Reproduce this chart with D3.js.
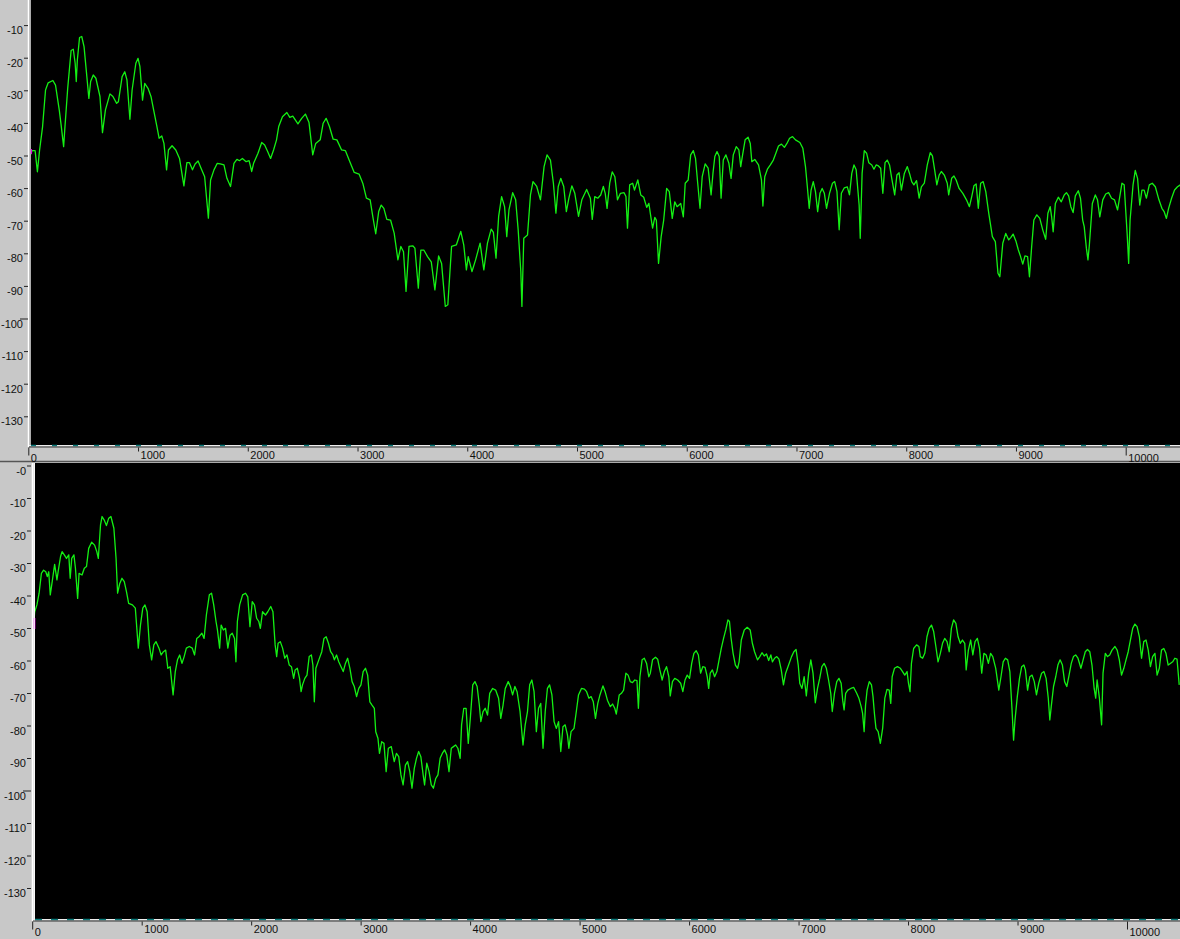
<!DOCTYPE html>
<html>
<head>
<meta charset="utf-8">
<script src="https://cdn.jsdelivr.net/npm/d3@7"></script>
<style>
  body { margin: 0; background: #c8c8c8; }
  text { font-family: "Liberation Sans", Arial, sans-serif; font-size: 10.5px; fill: #111; }
</style>
</head>
<body>
<div id="chart"></div>
<script>
// frequency ticks (Hz) and level ticks (dB)
var xTicks = [0, 1000, 2000, 3000, 4000, 5000, 6000, 7000, 8000, 9000, 10000];
var yTicksTop = [-10, -20, -30, -40, -50, -60, -70, -80, -90, -100, -110, -120, -130];
var yTicksBottom = [0, -10, -20, -30, -40, -50, -60, -70, -80, -90, -100, -110, -120, -130];

// spectrum of the upper channel: [Hz, dB]
var topSpectrum = [[12,-50.4],[35,-48.5],[62,-48.5],[83,-55.0],[103,-48.3],[130,-41.2],[157,-29.9],[181,-27.7],[224,-27.0],[248,-28.4],[282,-36.0],[299,-40.6],[322,-47.3],[332,-42.2],[359,-29.4],[390,-17.8],[410,-17.4],[427,-21.7],[437,-27.3],[447,-20.7],[467,-13.8],[487,-13.5],[508,-16.6],[528,-23.8],[552,-32.5],[568,-27.3],[592,-25.3],[616,-26.3],[653,-31.9],[676,-43.0],[703,-36.0],[744,-31.1],[771,-31.9],[805,-34.0],[821,-33.5],[855,-25.8],[879,-24.3],[899,-26.8],[926,-38.9],[946,-29.9],[980,-21.7],[1000,-20.2],[1017,-22.7],[1041,-33.0],[1061,-27.9],[1091,-29.4],[1118,-31.9],[1142,-36.0],[1169,-40.6],[1192,-44.7],[1216,-44.0],[1236,-46.3],[1260,-54.4],[1277,-48.3],[1310,-47.0],[1344,-48.3],[1378,-50.9],[1418,-59.3],[1445,-52.2],[1469,-52.2],[1496,-54.4],[1520,-52.6],[1547,-51.7],[1580,-54.4],[1607,-56.5],[1641,-69.2],[1661,-57.5],[1692,-54.4],[1722,-52.4],[1749,-52.6],[1783,-52.9],[1810,-57.0],[1843,-59.5],[1874,-52.4],[1901,-51.2],[1924,-51.6],[1951,-50.9],[1985,-51.9],[2012,-51.6],[2036,-54.9],[2053,-52.4],[2093,-49.3],[2127,-46.0],[2154,-46.8],[2181,-48.8],[2208,-50.9],[2235,-48.3],[2262,-45.2],[2282,-41.1],[2316,-38.1],[2356,-36.8],[2383,-38.3],[2410,-37.9],[2457,-40.3],[2491,-38.6],[2525,-37.3],[2558,-39.9],[2592,-49.8],[2619,-46.3],[2660,-45.2],[2687,-40.1],[2714,-38.6],[2744,-41.1],[2778,-45.0],[2812,-45.2],[2855,-48.3],[2889,-48.5],[2930,-51.9],[2970,-55.2],[3014,-55.7],[3048,-58.5],[3081,-63.1],[3115,-63.6],[3139,-68.7],[3166,-74.0],[3193,-67.2],[3216,-65.2],[3240,-66.2],[3267,-69.6],[3301,-69.8],[3334,-73.8],[3368,-82.0],[3395,-77.9],[3419,-79.5],[3442,-91.7],[3469,-77.9],[3503,-77.7],[3523,-78.4],[3554,-90.7],[3577,-79.0],[3604,-79.0],[3638,-81.0],[3672,-82.6],[3705,-91.2],[3739,-80.8],[3766,-83.1],[3800,-96.3],[3823,-95.8],[3857,-77.9],[3901,-77.4],[3941,-73.3],[3968,-77.4],[3992,-85.1],[4009,-81.0],[4043,-85.6],[4076,-82.0],[4117,-76.9],[4151,-85.1],[4184,-76.9],[4218,-72.6],[4238,-73.6],[4262,-81.5],[4286,-68.7],[4313,-62.6],[4340,-65.7],[4360,-74.9],[4380,-66.7],[4414,-61.4],[4441,-63.6],[4464,-72.8],[4488,-85.6],[4498,-96.3],[4515,-75.4],[4549,-74.4],[4576,-62.1],[4599,-58.0],[4633,-59.5],[4667,-63.6],[4700,-53.4],[4727,-49.8],[4758,-51.4],[4785,-58.5],[4808,-67.7],[4829,-59.5],[4852,-57.0],[4879,-59.5],[4903,-67.2],[4926,-63.1],[4953,-59.3],[4980,-61.6],[5014,-68.7],[5044,-63.6],[5088,-60.4],[5122,-63.1],[5139,-69.6],[5162,-62.6],[5189,-63.1],[5216,-62.1],[5240,-59.5],[5257,-61.6],[5274,-66.2],
  [5298,-58.5],[5321,-55.0],[5345,-56.5],[5369,-63.6],[5396,-61.6],[5429,-61.4],[5446,-62.6],[5460,-72.3],[5480,-59.0],[5507,-58.5],[5524,-60.6],[5554,-57.5],[5581,-62.1],[5608,-62.8],[5635,-65.9],[5655,-64.7],[5675,-69.3],[5689,-72.3],[5709,-69.0],[5723,-69.8],[5743,-83.1],[5767,-74.9],[5790,-69.8],[5817,-60.1],[5841,-61.1],[5868,-69.3],[5891,-64.2],[5912,-65.7],[5945,-64.7],[5969,-68.8],[5986,-58.5],[6013,-57.5],[6036,-49.8],[6060,-48.5],[6080,-50.9],[6100,-58.5],[6121,-66.2],[6141,-56.5],[6168,-52.6],[6195,-53.9],[6222,-62.1],[6239,-55.5],[6256,-50.3],[6276,-48.8],[6296,-50.3],[6313,-63.1],[6333,-51.4],[6357,-49.8],[6384,-52.4],[6404,-57.0],[6424,-49.8],[6451,-47.3],[6475,-48.3],[6492,-53.4],[6509,-49.8],[6532,-45.2],[6559,-44.4],[6579,-46.3],[6593,-51.9],[6620,-51.2],[6654,-52.9],[6681,-57.5],[6694,-65.5],[6711,-56.5],[6735,-54.2],[6762,-52.9],[6789,-51.4],[6812,-49.3],[6836,-47.1],[6863,-46.5],[6890,-47.5],[6913,-46.3],[6937,-44.7],[6964,-44.2],[6991,-45.2],[7031,-46.0],[7058,-47.8],[7082,-53.4],[7099,-59.6],[7116,-66.2],[7133,-60.6],[7153,-58.0],[7173,-61.1],[7193,-67.2],[7214,-61.6],[7234,-60.1],[7254,-61.6],[7274,-66.2],[7301,-61.6],[7328,-58.5],[7348,-58.0],[7369,-61.1],[7389,-72.8],[7409,-61.6],[7436,-59.9],[7463,-59.6],[7483,-62.1],[7504,-55.5],[7524,-52.9],[7544,-54.4],[7571,-65.2],[7581,-75.4],[7598,-55.5],[7618,-48.5],[7639,-49.3],[7659,-52.2],[7686,-52.9],[7706,-54.2],[7726,-52.9],[7747,-53.2],[7767,-53.9],[7787,-61.6],[7807,-52.2],[7827,-51.4],[7848,-52.9],[7868,-57.0],[7895,-62.1],[7915,-56.0],[7935,-55.3],[7956,-60.6],[7983,-55.5],[8010,-53.4],[8030,-55.5],[8050,-58.0],[8070,-59.0],[8094,-57.7],[8118,-63.1],[8138,-59.6],[8165,-58.5],[8192,-52.9],[8219,-49.1],[8239,-50.1],[8259,-54.4],[8279,-59.0],[8300,-56.0],[8320,-54.9],[8347,-56.0],[8374,-58.5],[8387,-62.1],[8414,-57.0],[8435,-56.3],[8455,-57.5],[8482,-60.1],[8516,-61.6],[8549,-63.6],[8576,-65.7],[8597,-62.6],[8617,-59.3],[8637,-58.7],[8657,-66.2],[8678,-58.5],[8701,-58.0],[8725,-61.1],[8752,-67.7],[8785,-74.9],[8812,-76.4],[8836,-86.1],[8853,-87.2],[8880,-76.9],[8907,-73.9],[8934,-75.9],[8954,-75.1],[8974,-74.1],[9001,-76.4],[9022,-79.0],[9042,-81.0],[9062,-83.3],[9082,-80.8],[9106,-81.0],[9123,-87.2],[9143,-78.0],[9163,-69.8],[9190,-68.2],[9217,-69.3],[9244,-72.8],[9271,-75.7],[9291,-67.7],[9312,-65.7],[9325,-68.8],[9339,-73.4],[9359,-64.7],[9386,-62.8],[9413,-64.2],[9440,-62.1],[9460,-61.4],[9480,-62.4],[9500,-65.7],[9521,-67.5],[9541,-62.4],[9568,-60.8],[9588,-63.1],[9608,-69.8],[9622,-71.8],[9642,-78.5],[9656,-82.0],[9669,-77.4],[9696,-64.7],[9723,-62.1],[9743,-63.6],[9764,-68.8],[9791,-63.6],[9818,-61.8],[9844,-61.4],[9871,-63.1],[9898,-63.6],[9926,-66.7],[9946,-62.6],[9966,-58.5],[9986,-59.0],[10013,-73.9],[10027,-83.1],[10040,-69.8],[10067,-59.0],[10087,-54.6],[10108,-57.0],[10128,-65.2],[10148,-60.6],[10168,-60.6],[10189,-63.1],[10215,-59.0],[10242,-58.5],[10270,-59.6],[10303,-63.6],[10330,-66.2],[10350,-67.2],[10371,-69.3],[10391,-66.2],[10418,-63.1],[10445,-60.6],[10472,-59.6],[10499,-59.0]];

// spectrum of the lower channel: [Hz, dB]
var bottomSpectrum = [[0,-55.2],[9,-50.6],[23,-45.0],[43,-42.9],[63,-39.3],[84,-33.2],[104,-32.2],[124,-32.7],[138,-34.2],[151,-32.7],[165,-39.8],[185,-35.2],[205,-30.4],[226,-35.2],[239,-32.2],[259,-28.0],[273,-26.5],[293,-27.5],[313,-28.6],[334,-27.5],[347,-34.7],[361,-28.6],[381,-27.5],[395,-31.6],[415,-40.9],[428,-33.2],[455,-33.7],[476,-31.6],[496,-31.1],[516,-25.5],[543,-23.6],[570,-24.5],[590,-26.5],[604,-28.6],[624,-18.3],[638,-15.7],[658,-16.8],[678,-18.5],[699,-16.2],[719,-15.7],[746,-19.3],[766,-28.6],[780,-39.3],[800,-36.3],[820,-34.7],[841,-35.7],[861,-38.8],[881,-42.4],[915,-42.9],[942,-43.9],[969,-56.2],[989,-49.1],[1010,-43.9],[1030,-42.9],[1050,-45.0],[1070,-55.2],[1091,-59.8],[1111,-55.2],[1131,-54.2],[1158,-56.2],[1178,-58.3],[1199,-57.3],[1219,-56.8],[1239,-62.4],[1260,-61.9],[1287,-70.6],[1307,-63.4],[1327,-59.8],[1347,-58.3],[1368,-60.9],[1388,-58.8],[1408,-56.2],[1435,-55.7],[1462,-56.2],[1483,-58.3],[1503,-53.2],[1523,-52.7],[1550,-51.6],[1570,-53.2],[1591,-46.0],[1618,-39.8],[1638,-39.3],[1658,-42.9],[1679,-48.0],[1692,-50.6],[1712,-56.2],[1726,-49.1],[1746,-50.6],[1766,-50.1],[1787,-56.2],[1807,-52.2],[1827,-51.6],[1848,-53.2],[1861,-60.4],[1874,-48.0],[1895,-42.9],[1922,-39.8],[1949,-39.3],[1969,-40.4],[1989,-49.6],[2010,-41.9],[2030,-42.9],[2050,-47.0],[2070,-48.0],[2084,-50.1],[2104,-45.0],[2131,-46.0],[2152,-45.0],[2179,-43.4],[2199,-45.0],[2219,-55.2],[2233,-58.8],[2246,-54.7],[2266,-54.2],[2287,-56.2],[2307,-59.3],[2327,-58.3],[2348,-61.4],[2368,-61.9],[2388,-65.5],[2402,-62.9],[2422,-62.4],[2442,-65.5],[2456,-69.6],[2469,-67.5],[2490,-65.5],[2510,-64.5],[2530,-58.8],[2550,-58.3],[2564,-61.4],[2577,-72.7],[2591,-62.4],[2618,-59.8],[2645,-57.3],[2665,-53.2],[2685,-52.7],[2706,-54.7],[2726,-57.3],[2746,-58.3],[2760,-59.8],[2780,-58.3],[2800,-60.4],[2821,-61.9],[2841,-63.4],[2861,-60.9],[2881,-59.3],[2902,-62.4],[2922,-66.5],[2942,-68.0],[2963,-71.1],[2983,-68.6],[3003,-67.5],[3023,-63.4],[3044,-62.4],[3064,-64.5],[3084,-72.7],[3104,-73.7],[3125,-74.7],[3138,-81.9],[3158,-83.9],[3172,-88.6],[3192,-85.0],[3213,-85.5],[3233,-94.2],[3253,-87.0],[3280,-86.5],[3307,-91.1],[3327,-88.6],[3348,-89.6],[3368,-95.2],[3388,-98.3],[3409,-92.2],[3429,-91.1],[3449,-94.2],[3469,-99.3],[3490,-93.2],[3510,-90.1],[3530,-88.0],[3550,-89.6],[3571,-95.2],[3584,-98.3],[3604,-91.6],[3625,-94.2],[3645,-98.3],[3665,-99.3],[3686,-96.3],[3706,-95.2],[3726,-90.1],[3746,-88.6],[3767,-87.5],[3787,-89.1],[3807,-94.2],[3828,-87.0],[3848,-86.5],[3868,-86.0],[3888,-87.0],[3909,-90.1],[3922,-79.8],[3942,-74.7],[3963,-74.7],[3983,-85.5],[4003,-77.3],[4024,-67.5],[4044,-66.5],[4064,-68.0],[4084,-73.7],[4098,-78.8],[4118,-75.7],[4138,-74.7],[4159,-76.8],[4179,-70.1],[4206,-68.6],[4233,-69.1],[4260,-71.6],[4280,-77.8],[4301,-73.7],[4321,-68.6],[4348,-66.5],[4368,-68.0],[4388,-70.6],[4409,-68.0],[4429,-69.6],[4456,-75.7],[4483,-86.0],[4503,-79.8],[4524,-75.7],[4544,-67.5],[4564,-66.0],[4584,-69.6],[4605,-81.9],[4625,-74.7],[4645,-73.2],[4666,-87.0],[4686,-75.7],[4706,-68.6],[4726,-67.5],[4747,-70.6],[4767,-78.8],[4787,-80.9],[4808,-78.8],[4828,-88.0],[4848,-80.4],[4868,-79.8],[4889,-82.9],[4902,-87.0],[4922,-81.9],[4949,-80.9],[4970,-75.7],[4990,-70.6],[5017,-68.6],[5044,-68.8],[5064,-69.6],[5085,-71.6],[5105,-71.1],[5125,-72.7],[5145,-77.8],[5166,-73.2],[5186,-70.6],
  [5213,-67.8],[5233,-69.6],[5254,-72.2],[5281,-74.2],[5301,-73.4],[5321,-74.7],[5335,-76.5],[5348,-73.7],[5362,-70.6],[5382,-70.1],[5402,-69.1],[5423,-63.9],[5443,-64.5],[5463,-66.5],[5483,-66.8],[5504,-66.0],[5524,-66.2],[5537,-74.7],[5551,-65.0],[5571,-59.8],[5591,-59.3],[5612,-60.9],[5632,-65.0],[5646,-63.9],[5666,-59.8],[5693,-59.0],[5713,-59.6],[5733,-62.9],[5754,-66.0],[5774,-63.4],[5794,-61.9],[5815,-65.0],[5828,-70.9],[5848,-66.5],[5869,-65.5],[5896,-66.0],[5923,-67.0],[5943,-69.6],[5963,-66.0],[5983,-64.5],[6004,-65.5],[6024,-60.9],[6044,-57.8],[6065,-57.0],[6085,-58.3],[6105,-63.9],[6125,-61.9],[6146,-62.1],[6166,-65.0],[6179,-68.6],[6193,-63.9],[6213,-62.9],[6233,-65.0],[6254,-63.4],[6274,-59.8],[6294,-56.3],[6315,-53.2],[6335,-50.6],[6355,-47.5],[6369,-48.0],[6382,-52.7],[6402,-57.8],[6423,-61.4],[6443,-62.4],[6457,-60.4],[6477,-53.7],[6504,-50.6],[6531,-49.8],[6558,-50.6],[6578,-54.7],[6598,-57.3],[6625,-59.8],[6646,-58.8],[6666,-57.6],[6686,-58.6],[6707,-58.0],[6727,-60.0],[6747,-58.3],[6761,-60.4],[6781,-59.3],[6801,-58.8],[6821,-59.6],[6842,-62.9],[6862,-67.5],[6882,-63.9],[6909,-61.4],[6936,-58.8],[6957,-57.3],[6977,-56.6],[6997,-61.4],[7011,-67.0],[7031,-68.6],[7051,-65.0],[7071,-70.9],[7092,-63.9],[7112,-59.8],[7132,-63.9],[7153,-73.0],[7173,-68.6],[7193,-65.5],[7213,-61.9],[7234,-60.9],[7254,-62.4],[7274,-66.0],[7294,-70.1],[7308,-75.7],[7328,-70.1],[7349,-66.5],[7369,-65.5],[7389,-67.0],[7403,-72.2],[7416,-75.2],[7430,-70.1],[7450,-69.1],[7477,-68.6],[7504,-68.3],[7531,-70.1],[7551,-71.6],[7572,-74.2],[7585,-76.3],[7599,-81.9],[7612,-73.7],[7626,-69.1],[7646,-66.5],[7666,-67.5],[7680,-71.1],[7693,-76.3],[7707,-80.9],[7727,-81.9],[7747,-85.5],[7768,-80.9],[7788,-71.6],[7808,-68.9],[7828,-69.1],[7842,-73.2],[7855,-65.0],[7876,-62.4],[7903,-61.9],[7930,-62.4],[7950,-63.4],[7970,-64.5],[7991,-63.4],[8004,-67.0],[8018,-69.6],[8031,-60.9],[8051,-56.3],[8078,-55.2],[8099,-55.7],[8112,-58.8],[8133,-59.3],[8153,-57.8],[8173,-52.7],[8193,-50.1],[8214,-49.1],[8234,-51.1],[8254,-55.7],[8274,-60.4],[8295,-57.8],[8315,-54.7],[8335,-53.2],[8356,-54.2],[8376,-57.3],[8396,-50.1],[8416,-47.5],[8437,-48.6],[8457,-52.7],[8477,-54.7],[8497,-53.7],[8518,-54.7],[8531,-62.9],[8551,-56.8],[8572,-53.7],[8592,-58.3],[8612,-54.2],[8633,-53.2],[8653,-56.3],[8673,-63.9],[8693,-57.8],[8714,-58.3],[8734,-60.9],[8754,-57.8],[8774,-58.8],[8801,-62.4],[8829,-69.1],[8849,-65.0],[8869,-60.4],[8889,-59.3],[8910,-59.8],[8930,-63.4],[8950,-75.2],[8964,-84.5],[8977,-78.3],[8998,-71.1],[9018,-65.5],[9038,-61.9],[9058,-61.4],[9072,-62.9],[9092,-69.1],[9112,-65.0],[9133,-64.5],[9153,-66.5],[9173,-70.6],[9194,-67.0],[9220,-63.9],[9241,-63.4],[9261,-65.5],[9281,-71.6],[9295,-78.3],[9308,-74.2],[9329,-68.0],[9349,-65.0],[9369,-61.4],[9389,-59.8],[9410,-61.4],[9430,-66.5],[9450,-68.0],[9471,-64.5],[9491,-60.9],[9511,-58.8],[9531,-58.3],[9552,-59.3],[9579,-62.4],[9599,-59.8],[9619,-57.3],[9639,-56.6],[9660,-57.3],[9680,-61.4],[9700,-68.6],[9714,-71.6],[9727,-66.0],[9748,-71.6],[9768,-79.8],[9781,-63.9],[9802,-57.8],[9822,-58.8],[9842,-58.3],[9863,-56.8],[9890,-55.7],[9910,-56.8],[9930,-59.8],[9950,-64.5],[9971,-62.4],[9991,-59.8],[10011,-57.3],[10031,-53.7],[10052,-50.1],[10072,-48.8],[10092,-49.6],[10113,-52.7],[10133,-59.3],[10153,-54.2],[10174,-53.7],[10194,-56.8],[10214,-61.9],[10234,-58.8],[10255,-57.8],[10275,-64.5],[10295,-62.4],[10315,-56.8],[10336,-56.3],[10356,-57.8],[10376,-61.4],[10396,-60.9],[10417,-60.4],[10437,-59.3],[10457,-59.6],[10477,-67.5]];

// magenta cursor mark at the start of each trace: [Hz, dB from, dB to]
var topCursor = [25, -48.0, -49.5];
var bottomCursor = [20, -46.9, -50.3];

var svgWidth = 1180;
var svgHeight = 939;

var svg = d3.select("#chart")
  .append("svg")
  .attr("width", svgWidth)
  .attr("height", svgHeight);

svg.append("rect")
  .attr("width", svgWidth)
  .attr("height", svgHeight)
  .attr("fill", "#c8c8c8");

// separator between the two views
svg.append("line")
  .attr("x1", 0).attr("x2", svgWidth)
  .attr("y1", 461.5).attr("y2", 461.5)
  .attr("stroke", "#555").attr("stroke-width", 1.5);

function drawPanel(cfg, data, yTicks, cursor) {
  var x = d3.scaleLinear().domain([0, 10000]).range(cfg.xRange);
  var y = d3.scaleLinear().domain([0, -130]).range(cfg.yRange);

  var g = svg.append("g");

  g.append("rect")
    .attr("x", cfg.left)
    .attr("y", cfg.top)
    .attr("width", svgWidth - cfg.left)
    .attr("height", cfg.bottom - cfg.top)
    .attr("fill", "#000");

  g.append("clipPath")
    .attr("id", cfg.id)
    .append("rect")
    .attr("x", cfg.left)
    .attr("y", cfg.top)
    .attr("width", svgWidth - cfg.left)
    .attr("height", cfg.bottom - cfg.top);

  var line = d3.line()
    .x(d => x(d[0]))
    .y(d => y(d[1]));

  g.append("path")
    .datum(data)
    .attr("clip-path", "url(#" + cfg.id + ")")
    .attr("d", line)
    .attr("fill", "none")
    .attr("stroke", "#14f014")
    .attr("stroke-width", 1.3)
    .attr("stroke-linejoin", "round");

  g.append("line")
    .attr("x1", x(cursor[0])).attr("x2", x(cursor[0]))
    .attr("y1", y(cursor[1])).attr("y2", y(cursor[2]))
    .attr("stroke", "#e000e0")
    .attr("stroke-width", 2);

  // frame lines on the left and bottom
  g.append("line")
    .attr("x1", cfg.left - 2.5).attr("x2", cfg.left - 2.5)
    .attr("y1", cfg.top).attr("y2", cfg.bottom + 2)
    .attr("stroke", "#fff").attr("stroke-width", 1.5);
  g.append("line")
    .attr("x1", cfg.left - 0.8).attr("x2", cfg.left - 0.8)
    .attr("y1", cfg.top).attr("y2", cfg.bottom + 2)
    .attr("stroke", cfg.edge).attr("stroke-width", 1.3);

  g.append("line")
    .attr("x1", cfg.left - 2).attr("x2", svgWidth)
    .attr("y1", cfg.bottom + 0.5).attr("y2", cfg.bottom + 0.5)
    .attr("stroke", "#eee").attr("stroke-width", 1);
  g.append("line")
    .attr("x1", cfg.left).attr("x2", svgWidth)
    .attr("y1", cfg.bottom + 0.5).attr("y2", cfg.bottom + 0.5)
    .attr("stroke", "#0a7a7a").attr("stroke-width", 1.5)
    .attr("stroke-dasharray", cfg.dash);
  g.append("line")
    .attr("x1", cfg.left - 2).attr("x2", svgWidth)
    .attr("y1", cfg.bottom + 2).attr("y2", cfg.bottom + 2)
    .attr("stroke", "#333").attr("stroke-width", 1);

  // level axis
  var yAxis = g.append("g")
    .attr("transform", `translate(${cfg.yAxisX}, 0)`)
    .call(d3.axisLeft(y).tickValues(yTicks).tickSize(4).tickPadding(1)
      .tickFormat(d => "-" + Math.abs(d)));
  yAxis.select(".domain").remove();
  yAxis.selectAll(".tick line").attr("stroke", "#222")
    .attr("x2", d => d === -100 ? -8 : -4);
  yAxis.selectAll(".tick text")
    .attr("dy", "0.78em")
    .attr("fill", "#111")
    .style("font-size", "11px")
    .style("font-family", "'Liberation Sans', Arial, sans-serif");

  // frequency axis
  var xAxis = g.append("g")
    .attr("transform", `translate(0, ${cfg.bottom + 2.5})`)
    .call(d3.axisBottom(x).tickValues(xTicks).tickSize(4).tickFormat(d3.format("d")));
  xAxis.select(".domain").remove();
  xAxis.selectAll(".tick line").attr("stroke", "#222")
    .attr("y2", d => d % 10000 === 0 ? 8 : 4);
  xAxis.selectAll(".tick text")
    .attr("text-anchor", "start")
    .attr("x", 2)
    .attr("dy", 0)
    .attr("y", d => d % 10000 === 0 ? 14.5 : 11)
    .attr("fill", "#111")
    .style("font-size", "11px")
    .style("font-family", "'Liberation Sans', Arial, sans-serif");
}

drawPanel({
  id: "clipTop", left: 31, top: 0, bottom: 445,
  xRange: [28.3, 1125.7], yRange: [-7.5, 416.3],
  yAxisX: 28, edge: "#a8a8a8", dash: "5,16"
}, topSpectrum, yTicksTop, topCursor);

drawPanel({
  id: "clipBottom", left: 35, top: 463, bottom: 919,
  xRange: [32.2, 1127], yRange: [465.5, 888],
  yAxisX: 31, edge: "#fff", dash: "7,9"
}, bottomSpectrum, yTicksBottom, bottomCursor);
</script>
</body>
</html>
